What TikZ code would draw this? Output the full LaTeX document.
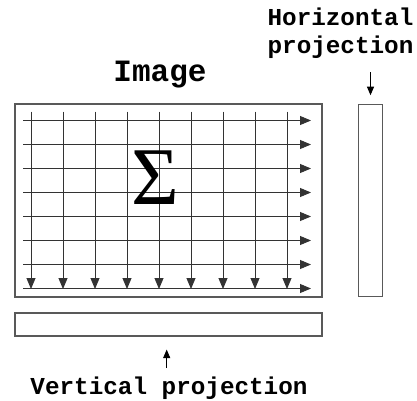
\documentclass[tikz,border=0pt]{standalone}
\usepackage{fontspec}
\setmonofont{Liberation Mono}
\newfontfamily\sigmafont{Liberation Serif}
\usetikzlibrary{arrows.meta}
\tikzset{
  frame/.style={draw=black!65, line width=1.1pt, inner sep=0pt},
  gridarrow/.style={draw=black!80, line width=0.9pt, -{Triangle[length=11pt,width=9pt]}},
  projarrow/.style={draw=black, line width=0.9pt, -{Triangle[length=8.5pt,width=7pt]}},
  label/.style={font=\ttfamily\bfseries\fontsize{24.3}{27}\selectfont, inner sep=0pt, align=center},
}
\begin{document}
\begin{tikzpicture}[x=1pt,y=1pt]
\useasboundingbox (0,0) rectangle (417,400);
% image frame
\node[frame, minimum width=307pt, minimum height=193pt] (img) at (168.5,199.5) {};
% horizontal lines
\foreach \i in {0,...,7} {
  \draw[gridarrow] (23,{279.5-24*\i}) -- (311,{279.5-24*\i});
}
% vertical lines
\foreach \j in {0,...,8} {
  \draw[gridarrow] ({31+32*\j},288.3) -- ({31+32*\j},111);
}
\node[inner sep=0pt, anchor=base, font=\sigmafont\fontsize{82}{82}\selectfont] (sig) at (155,196) {Σ};
% horizontal projection
\node[frame, minimum width=24.5pt, minimum height=192.5pt] (hp) at (370.5,199.5) {};
\coordinate (hpa) at (370.5,328);
\draw[projarrow, shorten >=8.5pt] (hpa) -- (hp.north);
% vertical projection
\node[frame, minimum width=307pt, minimum height=23pt] (vp) at (168.5,75.5) {};
\coordinate (vpa) at (166.7,32);
\draw[projarrow, shorten >=13pt] (vpa) -- (vpa |- vp.south);
% labels
\node[label, font=\ttfamily\bfseries\fontsize{31}{31}\selectfont, anchor=base] (imgl) at (160,319) {Image};
\node[label, anchor=base] (hpl1) at (340.5,374) {Horizontal};
\node[label, anchor=base] (hpl2) at (340.5,347) {projection};
\node[label, anchor=base] (vpl) at (169,5.5) {Vertical projection};
\end{tikzpicture}
\end{document}
